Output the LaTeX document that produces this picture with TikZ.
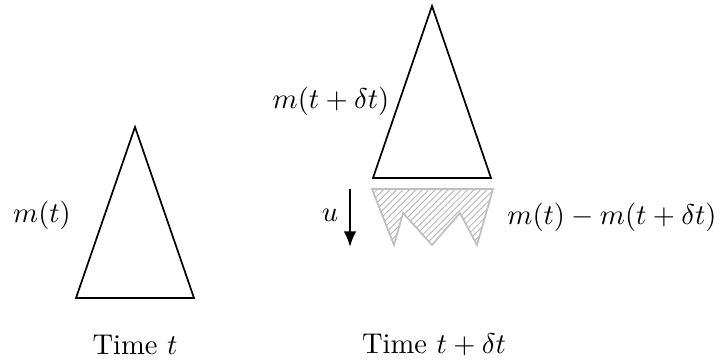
\documentclass[tikz,border=0pt]{standalone}
\usetikzlibrary{patterns.meta, arrows.meta}
\begin{document}
\begin{tikzpicture}[x=0.35pt, y=-0.35pt, line join=miter]
\useasboundingbox (0,0) rectangle (721,360);

% Cohete en el instante t
\draw[semithick] (76,298) -- (135,127) -- (194,298) -- cycle;
\node (mt) at (42,215) {$m(t)$};
\node (tiempo1) at (135,345) {Time $t$};

% Cohete en el instante t + dt
\draw[semithick] (373,178) -- (432,6) -- (491,178) -- cycle;
\node (mtdt) at (331,101) {$m(t+\delta t)$};

% Masa expulsada (rayada en gris)
\filldraw[draw=gray!50, semithick, pattern={Lines[angle=45, distance=1.6pt, line width=0.3pt]}, pattern color=gray!60]
  (372,189) -- (394,245) -- (403,213) -- (432,245) -- (460,213) -- (477,245) -- (493,189) -- cycle;
\node (masa) at (612,217) {$m(t)-m(t+\delta t)$};

% Velocidad de escape
\coordinate (u1) at (350,189);
\coordinate (u2) at (350,247);
\draw[thick, -{Latex[length=5.5pt, width=4.5pt]}] (u1) -- (u2);
\node (u) at (330,215) {$u$};

\node (tiempo2) at (434,345) {Time $t+\delta t$};
\end{tikzpicture}
\end{document}
